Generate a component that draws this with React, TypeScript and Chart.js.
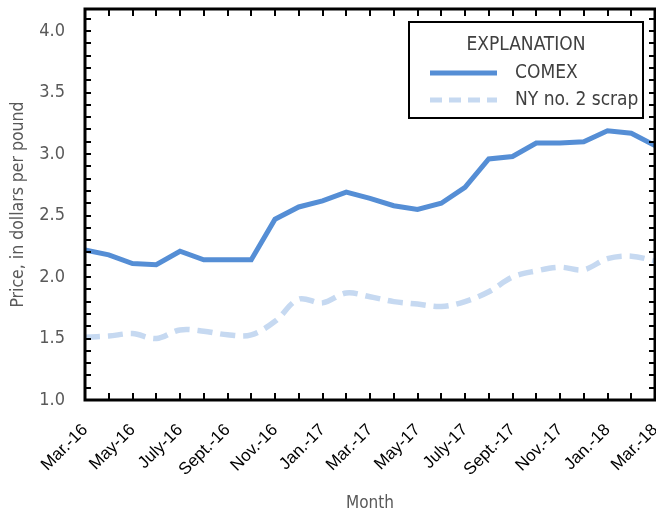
import React, { useEffect, useRef } from "react";
import { Chart, registerables } from "chart.js";

Chart.register(...registerables);

const months = [
  "Mar.-16", "Apr.-16", "May-16", "June-16", "July-16", "Aug.-16", "Sept.-16", "Oct.-16", "Nov.-16", "Dec.-16",
  "Jan.-17", "Feb.-17", "Mar.-17", "Apr.-17", "May-17", "June-17", "July-17", "Aug.-17", "Sept.-17", "Oct.-17",
  "Nov.-17", "Dec.-17", "Jan.-18", "Feb.-18", "Mar.-18",
];
const comex = [2.22, 2.18, 2.11, 2.10, 2.21, 2.14, 2.14, 2.14, 2.47, 2.57, 2.62, 2.69, 2.64, 2.58, 2.55, 2.60, 2.73, 2.96, 2.98, 3.09, 3.09, 3.10, 3.19, 3.17, 3.07];
const nyScrap = [1.51, 1.52, 1.54, 1.50, 1.57, 1.56, 1.53, 1.53, 1.64, 1.82, 1.79, 1.87, 1.84, 1.80, 1.78, 1.76, 1.80, 1.88, 2.00, 2.05, 2.08, 2.06, 2.15, 2.17, 2.13];
const yTicks = [1.0, 1.5, 2.0, 2.5, 3.0, 3.5, 4.0];
const seriesNames = ["COMEX", "NY no. 2 scrap"];
const legendTitle = "EXPLANATION";

const COMEX_COLOR = "#558ED5";
const NY_COLOR = "#C6D9F1";
const NARROW = '"Liberation Sans Narrow", "DejaVu Sans Condensed", "Arial Narrow", sans-serif';

const framePlugin = {
  id: "frame",
  afterDatasetsDraw(chart: any) {
    const { ctx, chartArea: a, scales } = chart;
    const xs = scales.x;
    const ys = scales.y;
    ctx.save();
    ctx.strokeStyle = "#000";
    ctx.lineWidth = 2;
    ctx.beginPath();
    for (let i = 0; i <= 31; i++) {
      const v = 1 + i * 0.1;
      if (v > ys.max + 1e-9) break;
      const py = Math.round(ys.getPixelForValue(v));
      ctx.moveTo(a.left, py);
      ctx.lineTo(a.left + 6, py);
      ctx.moveTo(a.right, py);
      ctx.lineTo(a.right - 6, py);
    }
    for (let i = 0; i < months.length; i++) {
      const px = Math.round(xs.getPixelForValue(i));
      ctx.moveTo(px, a.top);
      ctx.lineTo(px, a.top + 7);
      ctx.moveTo(px, a.bottom);
      ctx.lineTo(px, a.bottom - 7);
    }
    ctx.stroke();
    ctx.lineWidth = 3;
    ctx.strokeRect(a.left, a.top, a.right - a.left, a.bottom - a.top);

    // legend box
    const bw = 234;
    const bh = 96;
    const bx = a.right - 12 - bw;
    const by = a.top + 13;
    ctx.fillStyle = "#fff";
    ctx.fillRect(bx, by, bw, bh);
    ctx.lineWidth = 2;
    ctx.strokeRect(bx, by, bw, bh);
    ctx.fillStyle = "#404040";
    ctx.font = `19px ${NARROW}`;
    ctx.textBaseline = "middle";
    ctx.textAlign = "center";
    ctx.fillText(legendTitle, bx + 117, by + 23);
    ctx.textAlign = "left";
    ctx.fillText(seriesNames[0], bx + 106, by + 51);
    ctx.fillText(seriesNames[1], bx + 106, by + 78);
    ctx.lineWidth = 5;
    ctx.strokeStyle = COMEX_COLOR;
    ctx.beginPath();
    ctx.moveTo(bx + 21, by + 51);
    ctx.lineTo(bx + 88, by + 51);
    ctx.stroke();
    ctx.lineWidth = 5;
    ctx.strokeStyle = NY_COLOR;
    ctx.setLineDash([12, 7]);
    ctx.beginPath();
    ctx.moveTo(bx + 21, by + 78);
    ctx.lineTo(bx + 88, by + 78);
    ctx.stroke();
    ctx.restore();
  },
};

export default function App() {
  const ref = useRef<HTMLCanvasElement>(null);
  useEffect(() => {
    if (!ref.current) return;
    const chart = new Chart(ref.current, {
      type: "line",
      data: {
        labels: months,
        datasets: [
          {
            label: seriesNames[1],
            data: nyScrap,
            borderColor: NY_COLOR,
            borderWidth: 5.5,
            borderDash: [15, 8],
            pointRadius: 0,
            tension: 0.35,
            fill: false,
          },
          {
            label: seriesNames[0],
            data: comex,
            borderColor: COMEX_COLOR,
            borderWidth: 5,
            pointRadius: 0,
            tension: 0,
            fill: false,
          },
        ],
      },
      options: {
        responsive: false,
        animation: false,
        layout: { padding: { left: 0, right: 1, top: 9, bottom: 0 } },
        plugins: { legend: { display: false }, tooltip: { enabled: false } },
        scales: {
          x: {
            type: "category",
            offset: false,
            grid: { display: false },
            border: { display: false },
            ticks: {
              autoSkip: false,
              minRotation: 45,
              maxRotation: 45,
              color: "#000",
              padding: 12,
              font: { family: '"Liberation Sans", Arial, sans-serif', size: 17 },
              callback: (_v: any, i: number) => (i % 2 === 0 ? months[i] : ""),
            },
            title: {
              display: true,
              text: "Month",
              color: "#595959",
              font: { family: NARROW, size: 17 },
              padding: { top: 0, bottom: 1 },
            },
            afterFit: (s: any) => {
              s.height = 115;
              s.paddingLeft = 0;
              s.paddingRight = 0;
            },
          },
          y: {
            min: 1,
            max: 4.18,
            grid: { display: false },
            border: { display: false },
            afterBuildTicks: (s: any) => {
              s.ticks = yTicks.map((v) => ({ value: v }));
            },
            ticks: {
              color: "#595959",
              padding: 12,
              font: { family: NARROW, size: 18 },
              callback: (v: any) => Number(v).toFixed(1),
            },
            title: {
              display: true,
              text: "Price, in dollars per pound",
              color: "#595959",
              font: { family: NARROW, size: 17.5 },
              padding: { top: 8, bottom: 0 },
            },
            afterFit: (s: any) => {
              s.width = 85;
              s.paddingTop = 0;
              s.paddingBottom = 0;
            },
          },
        },
      },
      plugins: [framePlugin],
    });
    return () => chart.destroy();
  }, []);
  return (
    <div style={{ position: "absolute", left: 0, top: 0, width: 656, height: 515 }}>
      <canvas ref={ref} width={656} height={515} style={{ display: "block" }} />
    </div>
  );
}
